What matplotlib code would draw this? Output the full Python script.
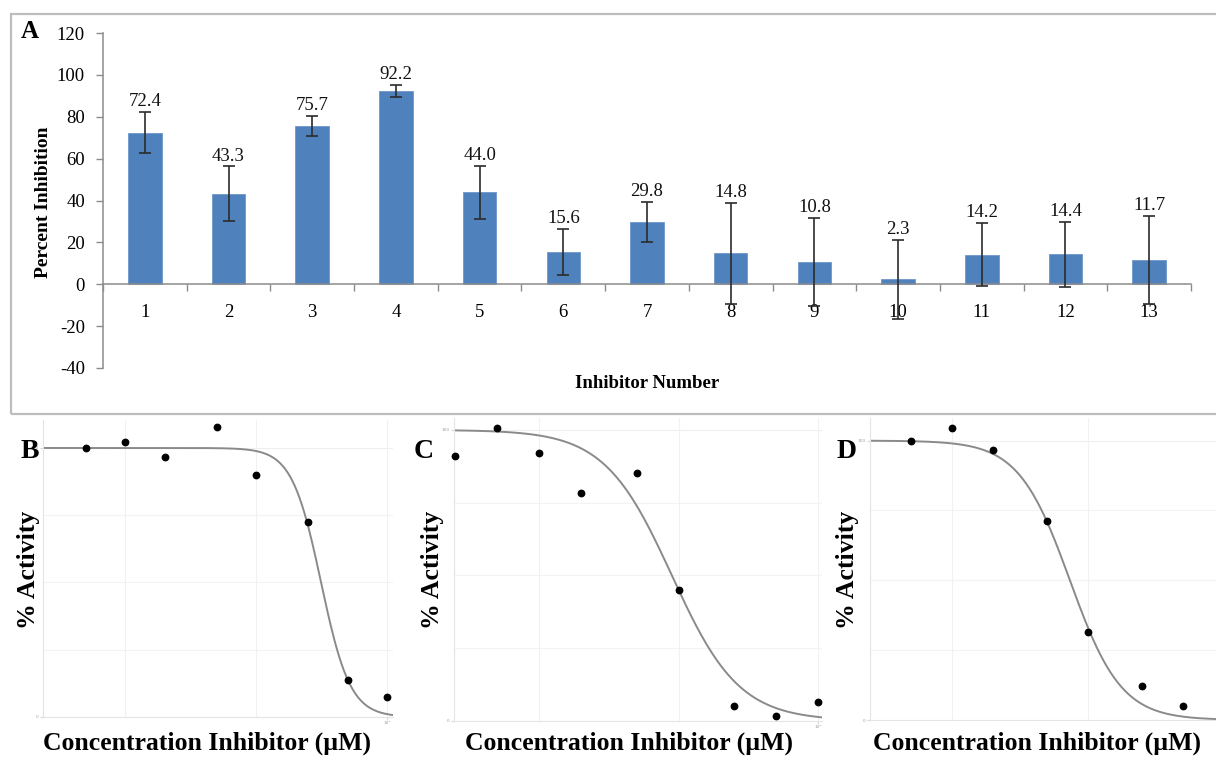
import numpy as np
import matplotlib.pyplot as plt
from matplotlib.patches import Rectangle

SERIF = ["Liberation Serif", "DejaVu Serif"]
plt.rcParams["font.family"] = SERIF

# ---- Panel A: single-concentration screen ----
inhibitors = [str(i) for i in range(1, 14)]
percent_inhibition = [72.4, 43.3, 75.7, 92.2, 44.0, 15.6, 29.8, 14.8, 10.8, 2.3, 14.2, 14.4, 11.7]
inhibition_err = [9.8, 13.0, 4.8, 3.0, 12.7, 11.0, 9.6, 24.0, 21.0, 19.0, 15.0, 15.5, 21.0]
yticks_a = [-40, -20, 0, 20, 40, 60, 80, 100, 120]

# ---- Panels B-D: dose-response series (µM, % activity) ----
conc_b = [0.5, 1, 2, 5, 10, 25, 50, 100]
activity_b = [100.1, 102.2, 96.7, 107.9, 90.0, 72.5, 13.8, 7.3]
conc_c = [0.25, 0.5, 1, 2, 5, 10, 25, 50, 100]
activity_c = [91.2, 100.6, 92.2, 78.2, 85.3, 45.0, 5.1, 1.6, 6.5]
conc_d = [0.5, 1, 2, 5, 10, 25, 50]
activity_d = [100.0, 104.4, 96.7, 71.4, 31.6, 12.2, 5.0]

# logistic fit parameters: (IC50 in µM, Hill slope)
fit_b = (31.3, 3.9)
fit_c = (8.9, 1.8)
fit_d = (7.4, 2.3)

W, H = 1216, 757
fig = plt.figure(figsize=(W / 100, H / 100), dpi=100)


def fx(px):
    return px / W


def fy(py):
    return 1 - py / H


# frame around panel A
fig.patches.append(Rectangle((fx(11), fy(414)), fx(1240 - 11), fy(13.5) - fy(414),
                             transform=fig.transFigure, fill=False,
                             edgecolor="#bdbdbd", linewidth=1.6, zorder=0))

axA = fig.add_axes([fx(103), fy(368), fx(1191 - 103), fy(33) - fy(368)])
x = np.arange(1, len(inhibitors) + 1)
axA.bar(x, percent_inhibition, width=0.4, color="#4F81BD", edgecolor="#6f97c9",
        linewidth=0.6, zorder=2)
axA.errorbar(x, percent_inhibition, yerr=inhibition_err, fmt="none",
             ecolor="#2b2b2b", elinewidth=1.2, capsize=4.5, capthick=1.2, zorder=3)
for xi, v, e in zip(x, percent_inhibition, inhibition_err):
    axA.text(xi, v + e + 0.8, f"{v:.1f}", ha="center", va="bottom",
             fontsize=13.5, color="#111111", zorder=4)

axA.set_xlim(0.5, len(inhibitors) + 0.5)
axA.set_ylim(-40, 120)
axA.set_yticks(yticks_a)
axA.set_yticklabels([str(t) for t in yticks_a], fontsize=13.5)
axA.set_xticks(np.arange(0.5, len(inhibitors) + 1, 1.0))
axA.set_xticklabels([])
axA.set_xticks(x, minor=True)
axA.set_xticklabels(inhibitors, minor=True)
axA.tick_params(axis="x", which="major", direction="out", length=5, width=1,
                color="#8c8c8c")
axA.tick_params(axis="x", which="minor", length=0, pad=14, labelsize=13.5)
axA.tick_params(axis="y", direction="out", length=5, width=1, color="#8c8c8c", pad=8,
                labelsize=13.5)
for s in ("top", "right"):
    axA.spines[s].set_visible(False)
axA.spines["bottom"].set_position(("data", 0))
for s in ("left", "bottom"):
    axA.spines[s].set_color("#8c8c8c")
    axA.spines[s].set_linewidth(1.1)
axA.set_facecolor("none")

fig.text(fx(30), fy(32), "A", fontsize=18, fontweight="bold", ha="center", va="center")
fig.text(fx(44), fy(202), "Percent Inhibition", fontsize=14, fontweight="bold",
         rotation=90, ha="center", va="center")
fig.text(fx(647), fy(384), "Inhibitor Number", fontsize=13.5, fontweight="bold",
         ha="center", va="center")


def logistic(c, ic50, hill):
    return 100.0 / (1.0 + (c / ic50) ** hill)


def dose_panel(rect_px, conc, act, fit, xlim, ytop, letter, letter_px, ylab_x, xlab_x,
               show_xtick=True):
    l, r, b, t = rect_px
    ax = fig.add_axes([fx(l), fy(b), fx(r - l), fy(t) - fy(b)])
    ax.set_xscale("log")
    ax.set_xlim(*xlim)
    ax.set_ylim(0, ytop)
    for gy in (25, 50, 75):
        ax.axhline(gy, color="#f3f3f3", lw=0.8, zorder=0)
    ax.axhline(100, color="#efefef", lw=0.8, zorder=0)
    for gx in (1, 10, 100):
        if xlim[0] < gx < xlim[1] * 1.01:
            ax.axvline(gx, color="#f1f1f1", lw=0.8, zorder=0)
    cc = np.logspace(np.log10(xlim[0]), np.log10(xlim[1]), 300)
    ax.plot(cc, logistic(cc, *fit), color="#8a8a8a", lw=1.4, zorder=2)
    ax.plot(conc, act, "o", color="black", markersize=4.6, zorder=3, clip_on=False)
    ax.set_yticks([0, 100])
    ax.set_yticklabels(["0", "100"], fontsize=3.2, color="#a0a0a0",
                       family=["DejaVu Sans"])
    ax.yaxis.set_minor_locator(plt.NullLocator())
    if show_xtick:
        ax.set_xticks([100])
        ax.set_xticklabels(["10²"], fontsize=3.2, color="#a0a0a0", family=["DejaVu Sans"])
    else:
        ax.set_xticks([])
    ax.xaxis.set_minor_locator(plt.NullLocator())
    ax.tick_params(length=2, color="#d8d8d8", pad=1.2)
    for s in ("top", "right"):
        ax.spines[s].set_visible(False)
    for s in ("left", "bottom"):
        ax.spines[s].set_color("#e4e4e4")
        ax.spines[s].set_linewidth(0.8)
    ax.set_facecolor("none")
    fig.text(fx(letter_px[0]), fy(letter_px[1]), letter, fontsize=20, fontweight="bold",
             ha="center", va="center")
    fig.text(fx(ylab_x), fy(570), "% Activity", fontsize=18.5, fontweight="bold",
             rotation=90, ha="center", va="center")
    fig.text(fx(xlab_x), fy(743), "Concentration Inhibitor (µM)", fontsize=18.5,
             fontweight="bold", ha="center", va="center")
    return ax


dose_panel((43, 393, 717, 420), conc_b, activity_b, fit_b, (0.234, 111), 110.4,
           "B", (30, 451), 28, 207)
dose_panel((454, 822, 720.7, 418), conc_c, activity_c, fit_c, (0.245, 106), 104.1,
           "C", (424, 452), 433, 629)
dose_panel((870, 1216, 720, 418), conc_d, activity_d, fit_d, (0.25, 88), 108.1,
           "D", (847, 451), 848, 1037, show_xtick=False)

fig.savefig("out.png", dpi=100)
